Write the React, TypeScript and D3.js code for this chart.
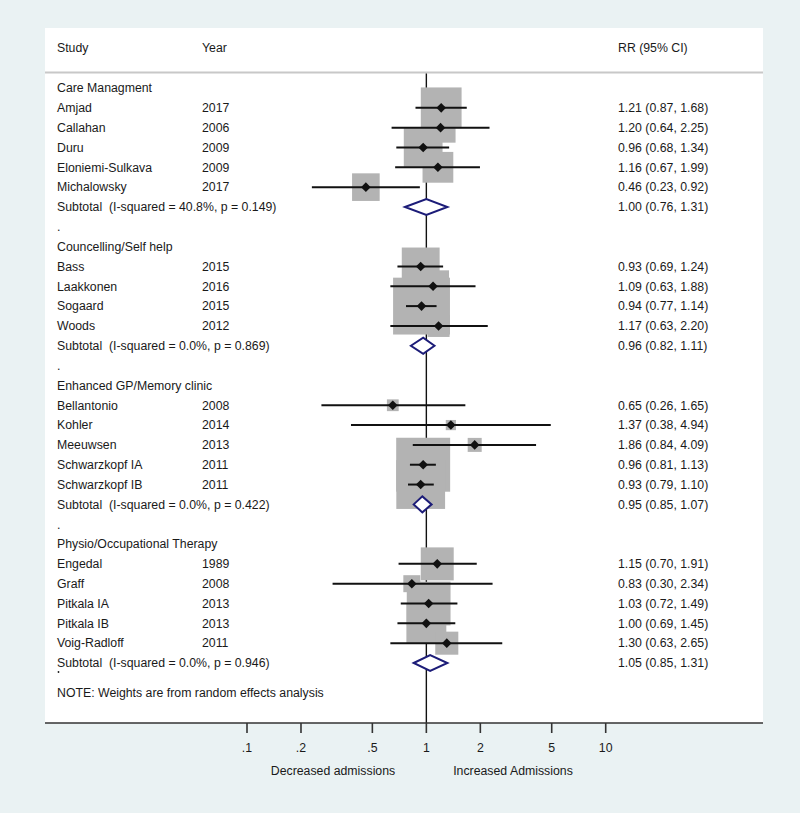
import React from "react";
import * as d3 from "d3";

// ---------- data ----------
const groups = [
  "Care Managment",
  "Councelling/Self help",
  "Enhanced GP/Memory clinic",
  "Physio/Occupational Therapy",
];
const studyGroup = [0, 0, 0, 0, 0, 1, 1, 1, 1, 2, 2, 2, 2, 2, 3, 3, 3, 3, 3];
const studies = [
  "Amjad", "Callahan", "Duru", "Eloniemi-Sulkava", "Michalowsky",
  "Bass", "Laakkonen", "Sogaard", "Woods",
  "Bellantonio", "Kohler", "Meeuwsen", "Schwarzkopf IA", "Schwarzkopf IB",
  "Engedal", "Graff", "Pitkala IA", "Pitkala IB", "Voig-Radloff",
];
const years = [
  "2017", "2006", "2009", "2009", "2017",
  "2015", "2016", "2015", "2012",
  "2008", "2014", "2013", "2011", "2011",
  "1989", "2008", "2013", "2013", "2011",
];
const rr = [1.21, 1.2, 0.96, 1.16, 0.46, 0.93, 1.09, 0.94, 1.17, 0.65, 1.37, 1.86, 0.96, 0.93, 1.15, 0.83, 1.03, 1.0, 1.3];
const lo = [0.87, 0.64, 0.68, 0.67, 0.23, 0.69, 0.63, 0.77, 0.63, 0.26, 0.38, 0.84, 0.81, 0.79, 0.7, 0.3, 0.72, 0.69, 0.63];
const hi = [1.68, 2.25, 1.34, 1.99, 0.92, 1.24, 1.88, 1.14, 2.2, 1.65, 4.94, 4.09, 1.13, 1.1, 1.91, 2.34, 1.49, 1.45, 2.65];
// percentage weights (random effects)
const weights = [7.2, 3.9, 6.5, 4.1, 3.3, 6.2, 4.4, 14.0, 2.1, 0.6, 0.45, 0.85, 12.6, 10.3, 4.7, 1.25, 8.3, 6.9, 2.3];

const subRR = [1.0, 0.96, 0.95, 1.05];
const subLo = [0.76, 0.82, 0.85, 0.85];
const subHi = [1.31, 1.11, 1.07, 1.31];
const subI2 = ["40.8%", "0.0%", "0.0%", "0.0%"];
const subP = ["0.149", "0.869", "0.422", "0.946"];

const tickValues = [0.1, 0.2, 0.5, 1, 2, 5, 10];
const tickLabels = [".1", ".2", ".5", "1", "2", "5", "10"];

// ---------- layout ----------
const W = 800;
const H = 813;
const panel = { x0: 45, x1: 763, y0: 28, y1: 723 };
const headerLine = 72.5;
const colStudy = 57;
const colYear = 202;
const colRR = 618;
const FONT = "'Liberation Sans', Arial, sans-serif";
const FS = 12.3;
const TEXT = "#1a1a1a";
const BOX = "#b3b3b3";
const NAVY = "#1c1c78";

const fmt = (v: number) => v.toFixed(2);

type Row =
  | { kind: "group"; idx: number; label: string }
  | { kind: "study"; idx: number; s: number }
  | { kind: "sub"; idx: number; g: number }
  | { kind: "dot"; idx: number };

function buildRows(): Row[] {
  const rows: Row[] = [];
  let idx = 0;
  groups.forEach((gname, g) => {
    rows.push({ kind: "group", idx: idx++, label: gname });
    studies.forEach((_, s) => {
      if (studyGroup[s] === g) rows.push({ kind: "study", idx: idx++, s });
    });
    rows.push({ kind: "sub", idx: idx++, g });
    if (g < groups.length - 1) rows.push({ kind: "dot", idx: idx++ });
  });
  return rows;
}

export default function App() {
  const x = d3.scaleLog().domain([0.1, 10]).range([247, 605.7]);
  const y = d3.scaleLinear().domain([0, 29]).range([88, 663]);
  const rows = buildRows();
  const boxK = 15.2; // px side per sqrt(weight)
  const x1 = x(1);

  const studyRows = rows.filter((r) => r.kind === "study") as { kind: "study"; idx: number; s: number }[];
  const subRows = rows.filter((r) => r.kind === "sub") as { kind: "sub"; idx: number; g: number }[];

  const diamondPath = (g: number, cy: number) => {
    const h = 8;
    const p = d3.path();
    p.moveTo(x(subLo[g]), cy);
    p.lineTo(x(subRR[g]), cy - h);
    p.lineTo(x(subHi[g]), cy);
    p.lineTo(x(subRR[g]), cy + h);
    p.closePath();
    return p.toString();
  };

  const marker = (cx: number, cy: number) => {
    const r = 4.8;
    return `M${cx - r},${cy}L${cx},${cy - r}L${cx + r},${cy}L${cx},${cy + r}Z`;
  };

  return (
    <svg
      width={W}
      height={H}
      style={{ position: "absolute", left: 0, top: 0, display: "block" }}
      fontFamily={FONT}
    >
      <rect x={0} y={0} width={W} height={H} fill="#eaf2f3" />
      <rect x={panel.x0} y={panel.y0} width={panel.x1 - panel.x0} height={panel.y1 - panel.y0} fill="#ffffff" />

      {/* header */}
      <g fontSize={FS} fill={TEXT}>
        <text x={colStudy} y={48} dy="0.35em">Study</text>
        <text x={colYear} y={48} dy="0.35em">Year</text>
        <text x={colRR} y={48} dy="0.35em">RR (95% CI)</text>
      </g>
      <line x1={panel.x0} x2={panel.x1} y1={headerLine} y2={headerLine} stroke="#c8c8c8" strokeWidth={2} />

      {/* null line */}
      <line x1={x1} x2={x1} y1={headerLine + 1} y2={panel.y1} stroke="#111" strokeWidth={1.4} />

      {/* boxes */}
      {studyRows.map((r) => {
        const side = boxK * Math.sqrt(weights[r.s]);
        return (
          <rect
            key={"b" + r.s}
            x={x(rr[r.s]) - side / 2}
            y={y(r.idx) - side / 2}
            width={side}
            height={side}
            fill={BOX}
          />
        );
      })}

      {/* CI lines */}
      {studyRows.map((r) => (
        <line
          key={"ci" + r.s}
          x1={x(lo[r.s])}
          x2={x(hi[r.s])}
          y1={y(r.idx)}
          y2={y(r.idx)}
          stroke="#111"
          strokeWidth={2}
        />
      ))}
      {studyRows.map((r) => (
        <path key={"m" + r.s} d={marker(x(rr[r.s]), y(r.idx))} fill="#111" />
      ))}

      {/* subtotal diamonds */}
      {subRows.map((r) => (
        <path
          key={"d" + r.g}
          d={diamondPath(r.g, y(r.idx))}
          fill="#ffffff"
          stroke={NAVY}
          strokeWidth={2}
        />
      ))}

      {/* row texts */}
      <g fontSize={FS} fill={TEXT}>
        {rows.map((r) => {
          const cy = y(r.idx);
          if (r.kind === "group")
            return (
              <text key={"t" + r.idx} x={colStudy} y={cy} dy="0.35em">{r.label}</text>
            );
          if (r.kind === "dot")
            return (
              <text key={"t" + r.idx} x={colStudy} y={cy} dy="0.35em">.</text>
            );
          if (r.kind === "study")
            return (
              <g key={"t" + r.idx}>
                <text x={colStudy} y={cy} dy="0.35em">{studies[r.s]}</text>
                <text x={colYear} y={cy} dy="0.35em">{years[r.s]}</text>
                <text x={colRR} y={cy} dy="0.35em">
                  {`${fmt(rr[r.s])} (${fmt(lo[r.s])}, ${fmt(hi[r.s])})`}
                </text>
              </g>
            );
          return (
            <g key={"t" + r.idx}>
              <text x={colStudy} y={cy} dy="0.35em" style={{ whiteSpace: "pre" }}>
                {`Subtotal  (I-squared = ${subI2[r.g]}, p = ${subP[r.g]})`}
              </text>
              <text x={colRR} y={cy} dy="0.35em">
                {`${fmt(subRR[r.g])} (${fmt(subLo[r.g])}, ${fmt(subHi[r.g])})`}
              </text>
            </g>
          );
        })}
        <circle cx={colStudy + 1.5} cy={672} r={0.9} fill={TEXT} />
        <text x={colStudy} y={y(30.5)} dy="0.35em">NOTE: Weights are from random effects analysis</text>
      </g>

      {/* axis */}
      <line x1={panel.x0} x2={panel.x1} y1={panel.y1} y2={panel.y1} stroke="#333" strokeWidth={1.6} />
      <g fontSize={FS} fill={TEXT} textAnchor="middle">
        {tickValues.map((t, i) => (
          <g key={"tick" + i}>
            <line x1={x(t)} x2={x(t)} y1={panel.y1} y2={panel.y1 + 10} stroke="#333" strokeWidth={1.6} />
            <text x={x(t)} y={748} dy="0.35em">{tickLabels[i]}</text>
          </g>
        ))}
        <text x={333} y={771} dy="0.35em">Decreased admissions</text>
        <text x={513} y={771} dy="0.35em">Increased Admissions</text>
      </g>
    </svg>
  );
}
